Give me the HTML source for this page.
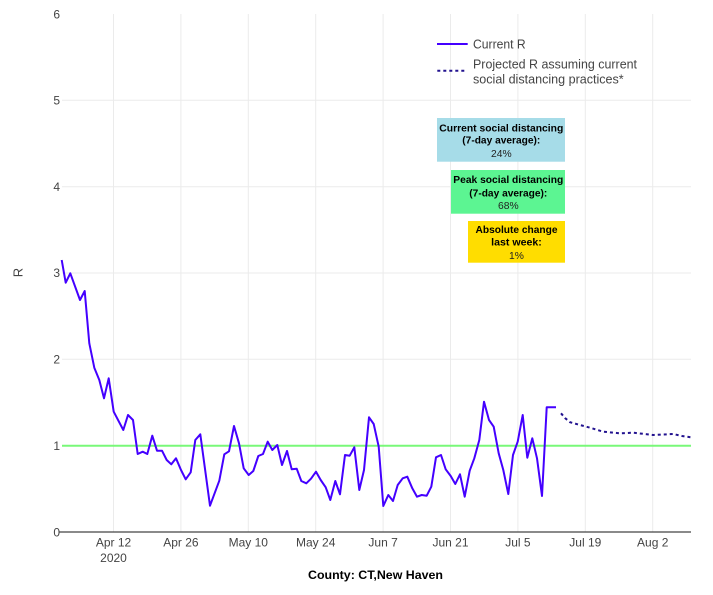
<!DOCTYPE html>
<html><head><meta charset="utf-8"><style>
html,body{margin:0;padding:0;background:#fff;}
svg{display:block;font-family:"Liberation Sans",Arial,sans-serif;}
</style></head><body>
<svg width="713" height="595" viewBox="0 0 713 595" xmlns="http://www.w3.org/2000/svg">
<rect width="713" height="595" fill="#fff"/>
<g stroke="#ebebeb" stroke-width="1">
<line x1="113.5" y1="14" x2="113.5" y2="532"/>
<line x1="180.9" y1="14" x2="180.9" y2="532"/>
<line x1="248.3" y1="14" x2="248.3" y2="532"/>
<line x1="315.7" y1="14" x2="315.7" y2="532"/>
<line x1="383.1" y1="14" x2="383.1" y2="532"/>
<line x1="450.5" y1="14" x2="450.5" y2="532"/>
<line x1="517.9" y1="14" x2="517.9" y2="532"/>
<line x1="585.3" y1="14" x2="585.3" y2="532"/>
<line x1="652.7" y1="14" x2="652.7" y2="532"/>
<line x1="62" y1="100.3" x2="691" y2="100.3"/>
<line x1="62" y1="186.7" x2="691" y2="186.7"/>
<line x1="62" y1="273" x2="691" y2="273"/>
<line x1="62" y1="359.3" x2="691" y2="359.3"/>
</g>
<g fill="#444" font-size="12" text-anchor="end">
<text x="60" y="18.5">6</text>
<text x="60" y="104.5">5</text>
<text x="60" y="191">4</text>
<text x="60" y="277">3</text>
<text x="60" y="363.5">2</text>
<text x="60" y="450">1</text>
<text x="60" y="536.5">0</text>
</g>
<text x="0" y="0" fill="#444" font-size="13" text-anchor="middle" transform="translate(22.5,272.5) rotate(-90)">R</text>
<g fill="#444" font-size="12" text-anchor="middle">
<text x="113.5" y="546.5">Apr 12</text>
<text x="113.5" y="562">2020</text>
<text x="180.9" y="546.5">Apr 26</text>
<text x="248.3" y="546.5">May 10</text>
<text x="315.7" y="546.5">May 24</text>
<text x="383.1" y="546.5">Jun 7</text>
<text x="450.5" y="546.5">Jun 21</text>
<text x="517.9" y="546.5">Jul 5</text>
<text x="585.3" y="546.5">Jul 19</text>
<text x="652.7" y="546.5">Aug 2</text>
</g>
<text x="375.5" y="579" fill="#000" font-size="12" font-weight="bold" text-anchor="middle" textLength="135" lengthAdjust="spacingAndGlyphs">County: CT,New Haven</text>
<line x1="62" y1="445.8" x2="691" y2="445.8" stroke="#78f878" stroke-width="2"/>
<line x1="59" y1="532" x2="691" y2="532" stroke="#444" stroke-width="1.3"/>
<polyline fill="none" stroke="#4400ff" stroke-width="2" stroke-linejoin="round" points="61.7,260 65.7,282.7 70.3,273.3 80,300 84.7,291 89.3,343.3 94.3,367.7 99.3,380 104,398.3 108.7,378.3 113.7,411.7 123.3,430 128,415 133,420 137.7,454 142.7,451.7 147.3,454 152.3,435.7 157,450.7 162,450.7 166.7,460 171.3,464.3 176,458.3 181,470 185.7,479.3 190.7,472.3 195.3,440 200.3,434.3 210,505.7 219.3,480.7 224.3,454.3 229,451.3 234,426 239,443.3 243.7,468.3 248.7,475 253.3,471 258.3,456 263,454 267.7,441.7 272.3,450 277.3,445 282,465 287,451 291.7,469.3 296.7,468.7 301.3,481 306.3,483.3 311,478.7 316,471.7 320.7,480 325.7,487.3 330.3,500 335.3,481 340,494.3 345,455 349.7,455.7 354.3,447.3 359.3,490 364,470 369,417.3 373.7,424 378.7,446.7 383.3,506 388.3,495 393,501 397.7,485 402.7,478.3 407.3,476.7 412.3,488.3 417,496.7 421.7,495 426.7,495.7 431.3,486.7 436,457.3 441,455 445.7,469.3 450.7,476 455.3,484 460,474.3 464.7,496.7 469.7,470.7 474.3,458.3 479.3,440 484,401.7 489,420 493.7,426.7 498.7,453.3 503.3,470 508.3,494 513,455 517.7,441.7 522.7,415 527.3,457.7 532.3,438.3 537,458.3 542,496 546.7,407.3 556,407.3"/>
<polyline fill="none" stroke="#22128f" stroke-width="2" stroke-dasharray="3,3" points="561,413.3 565,418 570,422.2 580,425 590,427.7 603.3,431.7 620,433.3 633.3,432.7 653.3,435 673.3,434 682,436 691,437.3"/>
<line x1="437" y1="44" x2="467.7" y2="44" stroke="#4400ff" stroke-width="2"/>
<text x="473" y="48.3" fill="#444" font-size="12.5" textLength="52.7" lengthAdjust="spacingAndGlyphs">Current R</text>
<line x1="437.3" y1="70.7" x2="467" y2="70.7" stroke="#22128f" stroke-width="2" stroke-dasharray="3,3"/>
<text x="473" y="68.3" fill="#444" font-size="12.5" textLength="164" lengthAdjust="spacingAndGlyphs">Projected R assuming current</text>
<text x="473" y="83.3" fill="#444" font-size="12.5" textLength="150.7" lengthAdjust="spacingAndGlyphs">social distancing practices*</text>
<rect x="437" y="118" width="128" height="43.7" fill="#a6dce8"/>
<g font-size="10.3" text-anchor="middle" fill="#000">
<text x="501.3" y="131.3" font-weight="bold" textLength="124" lengthAdjust="spacingAndGlyphs">Current social distancing</text>
<text x="501.3" y="143.7" font-weight="bold" textLength="78" lengthAdjust="spacingAndGlyphs">(7-day average):</text>
<text x="501.3" y="157" fill="#222">24%</text>
</g>
<rect x="451" y="170" width="114" height="43.7" fill="#5cf592"/>
<g font-size="10.3" text-anchor="middle" fill="#000">
<text x="508.3" y="183" font-weight="bold" textLength="110" lengthAdjust="spacingAndGlyphs">Peak social distancing</text>
<text x="508.3" y="196.3" font-weight="bold" textLength="78" lengthAdjust="spacingAndGlyphs">(7-day average):</text>
<text x="508.3" y="209" fill="#222">68%</text>
</g>
<rect x="468" y="221" width="97" height="41.7" fill="#ffdd00"/>
<g font-size="10.3" text-anchor="middle" fill="#000">
<text x="516.5" y="233" font-weight="bold" textLength="82" lengthAdjust="spacingAndGlyphs">Absolute change</text>
<text x="516.5" y="245.3" font-weight="bold" textLength="50.7" lengthAdjust="spacingAndGlyphs">last week:</text>
<text x="516.5" y="259" fill="#222">1%</text>
</g>
</svg>
</body></html>
